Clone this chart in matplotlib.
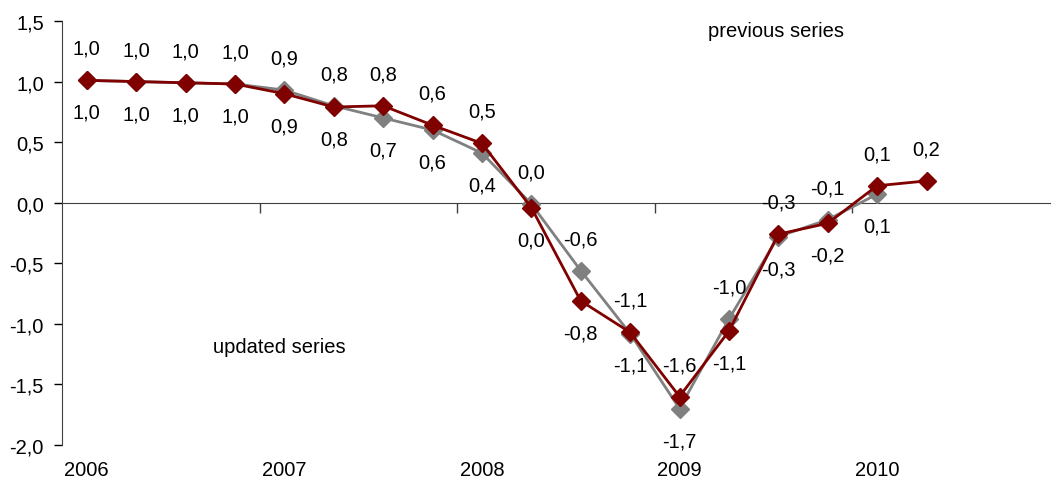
import numpy as np
import matplotlib
matplotlib.use('Agg')
import matplotlib.pyplot as plt
import matplotlib.transforms as mtransforms

plt.rcParams['font.family'] = ['Liberation Sans', 'DejaVu Sans']

# quarterly series, 2006Q1 onwards
updated = [1.01, 1.00, 0.99, 0.98, 0.90, 0.79, 0.80, 0.64, 0.49, -0.04,
           -0.81, -1.07, -1.60, -1.06, -0.26, -0.17, 0.14, 0.18]
previous = [1.01, 1.00, 0.99, 0.98, 0.93, 0.80, 0.70, 0.60, 0.41, -0.01,
            -0.56, -1.08, -1.70, -0.96, -0.28, -0.14, 0.07]
years = ['2006', '2007', '2008', '2009', '2010']
nquarters = 20

red = '#800000'
grey = '#808080'
fs = 14.5


def fmt(v):
    s = '%.1f' % v
    if s == '-0.0':
        s = '0.0'
    return s.replace('.', ',')


fig = plt.figure(figsize=(10.54, 4.85), dpi=100)
ax = fig.add_axes([62/1054, 1-446/485, (1050-62)/1054, 424/485])

xu = np.arange(len(updated))
xp = np.arange(len(previous))
ax.plot(xp, previous, color=grey, lw=2, marker='D', ms=9.5, mec=grey, zorder=3)
ax.plot(xu, updated, color=red, lw=2, marker='D', ms=9.5, mec=red, zorder=4)

# value labels: the higher series goes above, the lower one below
for i in range(len(updated)):
    u = updated[i]
    if i < len(previous):
        p = previous[i]
        if p > u:
            top, bot = p, u
        else:
            top, bot = u, p
        ax.annotate(fmt(top), (i, top), xytext=(0, 23), textcoords='offset points',
                    ha='center', va='center', fontsize=fs)
        ax.annotate(fmt(bot), (i, bot), xytext=(0, -23), textcoords='offset points',
                    ha='center', va='center', fontsize=fs)
    else:
        ax.annotate(fmt(u), (i, u), xytext=(0, 23), textcoords='offset points',
                    ha='center', va='center', fontsize=fs)

ax.set_xlim(-0.5, nquarters - 0.5)
ax.set_ylim(-2.0, 1.5)
ax.set_yticks(np.arange(-2.0, 1.51, 0.5))
ax.set_yticklabels([fmt(v) for v in np.arange(-2.0, 1.51, 0.5)])
ax.tick_params(axis='y', length=6, width=1, pad=7, labelsize=fs)

# x axis sits on zero, ticks between years
for s in ['top', 'right']:
    ax.spines[s].set_visible(False)
ax.spines['bottom'].set_position(('data', 0))
ax.spines['bottom'].set_color('#404040')
ax.spines['left'].set_color('#404040')
ax.set_xticks([3.5, 7.5, 11.5, 15.5])
ax.set_xticklabels([])
ax.tick_params(axis='x', length=7, width=1, direction='out', color='#404040')

trans = mtransforms.blended_transform_factory(ax.transData, ax.transAxes)
for k, y in enumerate(years):
    ax.text(4*k, -0.057, y, transform=trans, ha='center', va='center', fontsize=fs)

ax.text(13.95, 1.42, 'previous series', ha='center', va='center', fontsize=fs)
ax.text(3.89, -1.19, 'updated series', ha='center', va='center', fontsize=fs)

fig.savefig('out.png', dpi=100)
